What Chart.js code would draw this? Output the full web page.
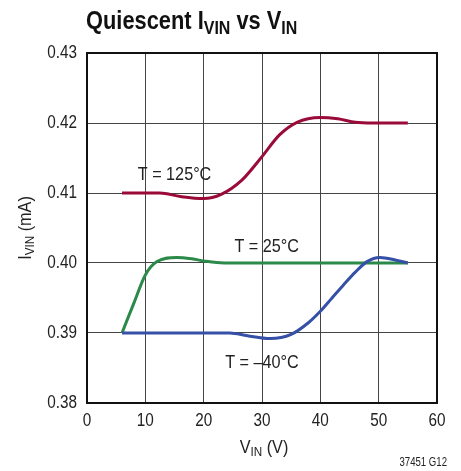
<!DOCTYPE html>
<html>
<head>
<meta charset="utf-8">
<script src="https://cdn.jsdelivr.net/npm/chart.js@4"></script>
<style>
  html, body { margin: 0; padding: 0; background: #fff; }
  #wrap { position: relative; width: 461px; height: 471px; }
</style>
</head>
<body>
<div id="wrap"><canvas id="c" width="461" height="471"></canvas></div>
<script>
// ---- data ----
const xTicks = [0, 10, 20, 30, 40, 50, 60];
const yTicks = [0.38, 0.39, 0.40, 0.41, 0.42, 0.43];

const v125 = [6, 9, 12.5, 16, 20, 23, 26.5, 30, 33, 36, 40, 43, 46, 49, 55];
const i125 = [0.41, 0.41, 0.41, 0.4095, 0.4092, 0.4098, 0.4118, 0.4152, 0.4183, 0.4201, 0.4208, 0.4206, 0.4201, 0.4200, 0.4200];

const v25 = [6, 8, 10, 12, 15.4, 18, 20, 23.5, 30, 40, 50, 55];
const i25 = [0.39, 0.3942, 0.3983, 0.4002, 0.4008, 0.4006, 0.4003, 0.4000, 0.4000, 0.4000, 0.4000, 0.4000];

const vm40 = [6, 15, 24.5, 27.5, 31.4, 35, 38, 40, 42, 44, 46, 48, 50.2, 53, 55];
const im40 = [0.39, 0.39, 0.39, 0.3896, 0.3892, 0.3898, 0.3915, 0.3931, 0.3950, 0.3969, 0.3987, 0.4002, 0.4008, 0.4004, 0.4000];

const seriesNames = ["T = 125°C", "T = 25°C", "T = –40°C"];
const seriesColors = ["#9a0b39", "#2b8a49", "#3550a6"];

const FONT = '"Liberation Sans", Arial, Helvetica, sans-serif';
const TEXT = '#222';

function pts(xs, ys) { return xs.map((x, i) => ({ x: x, y: ys[i] })); }

// draw a run of text parts [[text, isSub], ...] horizontally condensed by sx
function drawParts(ctx, parts, x, y, opt) {
  const { size, subSize, subDrop, weight, color, sx, align, baseline } = opt;
  ctx.save();
  ctx.fillStyle = color;
  ctx.textBaseline = baseline || 'alphabetic';
  ctx.textAlign = 'left';
  let w = 0;
  parts.forEach(p => {
    ctx.font = weight + ' ' + (p[1] ? subSize : size) + 'px ' + FONT;
    w += ctx.measureText(p[0]).width;
  });
  let startX = 0;
  if (align === 'center') startX = -w / 2;
  else if (align === 'right') startX = -w;
  ctx.translate(x, y);
  ctx.scale(sx, 1);
  let cx = startX;
  parts.forEach(p => {
    ctx.font = weight + ' ' + (p[1] ? subSize : size) + 'px ' + FONT;
    ctx.fillText(p[0], cx, p[1] ? subDrop : 0);
    cx += ctx.measureText(p[0]).width;
  });
  ctx.restore();
}
function txt(ctx, s, x, y, size, sx, align, weight) {
  drawParts(ctx, [[s, false]], x, y, { size: size, subSize: size, subDrop: 0, weight: weight || 'normal',
    color: TEXT, sx: sx, align: align, baseline: 'middle' });
}

const textPlugin = {
  id: 'texts',
  afterDraw(chart) {
    const ctx = chart.ctx;
    const xs = chart.scales.x, ys = chart.scales.y;
    const a = chart.chartArea;
    ctx.save();
    // title
    drawParts(ctx, [["Quiescent I", false], ["VIN", true], [" vs V", false], ["IN", true]],
      86, 29, { size: 26, subSize: 19, subDrop: 5, weight: 'bold', color: '#111', sx: 0.84, align: 'left' });
    // tick labels
    xTicks.forEach(v => txt(ctx, String(v), xs.getPixelForValue(v), 421.5, 18, 0.85, 'center'));
    yTicks.forEach(v => txt(ctx, v.toFixed(2), 77, ys.getPixelForValue(v), 18, 0.85, 'right'));
    // x axis title
    drawParts(ctx, [["V", false], ["IN", true], [" (V)", false]], 264, 453,
      { size: 18, subSize: 13, subDrop: 3, weight: 'normal', color: TEXT, sx: 0.9, align: 'center' });
    // y axis title (rotated)
    ctx.save();
    ctx.translate(31, 228);
    ctx.rotate(-Math.PI / 2);
    drawParts(ctx, [["I", false], ["VIN", true], [" (mA)", false]], 0, 0,
      { size: 18, subSize: 13, subDrop: 3, weight: 'normal', color: TEXT, sx: 0.9, align: 'center' });
    ctx.restore();
    // figure code
    txt(ctx, '37451 G12', 447, 463, 12, 0.8, 'right');
    // curve labels
    txt(ctx, seriesNames[0], xs.getPixelForValue(8.7), ys.getPixelForValue(0.41257), 18, 0.9, 'left');
    txt(ctx, seriesNames[1], xs.getPixelForValue(30.8), ys.getPixelForValue(0.40233), 18, 0.9, 'center');
    txt(ctx, seriesNames[2], xs.getPixelForValue(30.0), ys.getPixelForValue(0.38571), 18, 0.9, 'center');
    // frame
    ctx.strokeStyle = '#111';
    ctx.lineWidth = 2;
    ctx.strokeRect(a.left, a.top, a.right - a.left, a.bottom - a.top);
    ctx.restore();
  }
};

const mk = (xsArr, ysArr, i) => ({
  label: seriesNames[i],
  data: pts(xsArr, ysArr),
  borderColor: seriesColors[i],
  backgroundColor: seriesColors[i],
  borderWidth: 3,
  pointRadius: 0,
  cubicInterpolationMode: 'monotone',
  fill: false
});

new Chart(document.getElementById('c'), {
  type: 'line',
  data: {
    datasets: [mk(v125, i125, 0), mk(vm40, im40, 2), mk(v25, i25, 1)]
  },
  options: {
    responsive: false,
    animation: false,
    devicePixelRatio: 1,
    layout: { padding: { left: 0, right: 24, top: 53, bottom: 0 } },
    plugins: { legend: { display: false }, tooltip: { enabled: false }, title: { display: false } },
    scales: {
      x: {
        type: 'linear',
        min: 0, max: 60,
        afterBuildTicks: s => { s.ticks = xTicks.map(v => ({ value: v })); },
        afterFit: s => { s.height = 68; },
        grid: { color: '#444', lineWidth: 1, drawTicks: false },
        border: { display: false },
        ticks: { display: false }
      },
      y: {
        type: 'linear',
        min: 0.38, max: 0.43,
        afterBuildTicks: s => { s.ticks = yTicks.map(v => ({ value: v })); },
        afterFit: s => { s.width = 87; },
        grid: { color: '#444', lineWidth: 1, drawTicks: false },
        border: { display: false },
        ticks: { display: false }
      }
    }
  },
  plugins: [textPlugin]
});
</script>
</body>
</html>
